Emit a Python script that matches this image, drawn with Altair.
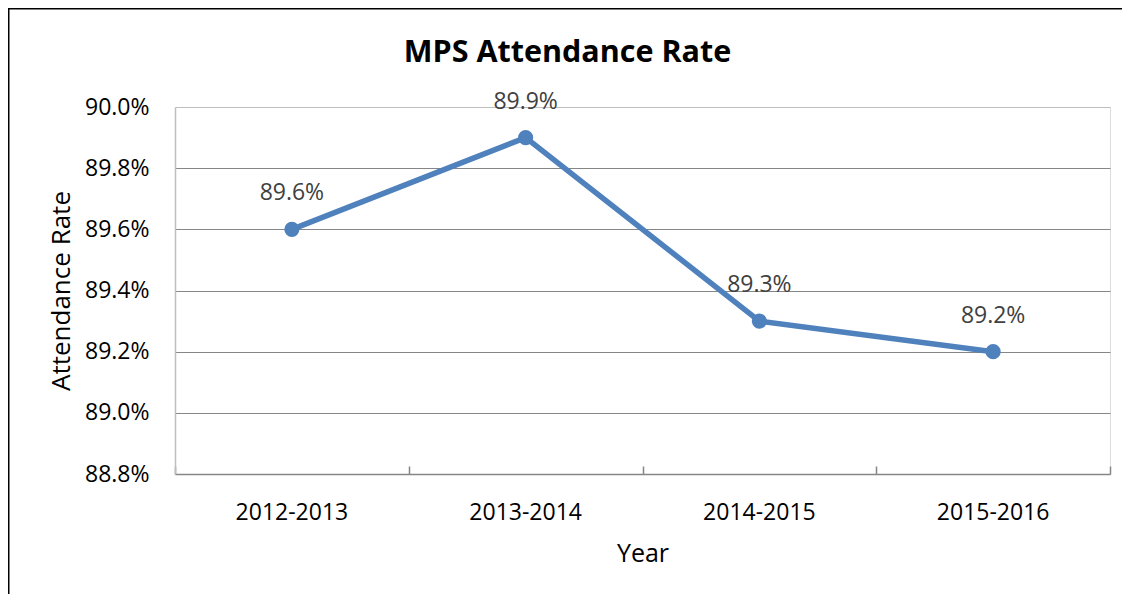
import altair as alt
import pandas as pd

# ---- data ----
years = ["2012-2013", "2013-2014", "2014-2015", "2015-2016"]
rates = [0.896, 0.899, 0.893, 0.892]
y_ticks = [0.888, 0.890, 0.892, 0.894, 0.896, 0.898, 0.900]

df = pd.DataFrame({"Year": years, "Rate": rates})
frame_df = pd.DataFrame({"k": [0]})

FONT = "Open Sans"
W, H = 935, 367
BLUE = "#4F81BD"
GRID = "#868686"
LIGHT = "#BFBFBF"

xscale = alt.Scale(type="band", paddingInner=0, paddingOuter=0, domain=years)
yscale = alt.Scale(domain=[0.888, 0.900], nice=False, zero=False)

x_main = alt.X(
    "Year:N", scale=xscale, bandPosition=0.5, sort=years,
    axis=alt.Axis(
        orient="bottom", title="Year", ticks=False, tickSize=0,
        domainColor=GRID, domainWidth=1.5, labelAngle=0,
        labelFont=FONT, labelFontSize=23, labelColor="#000000",
        labelPadding=27, titleFont=FONT, titleFontSize=25,
        titleFontWeight="normal", titleColor="#000000", titlePadding=17,
        grid=False,
    ),
)
x_plain = alt.X("Year:N", scale=xscale, bandPosition=0.5, sort=years, axis=None)
y_main = alt.Y(
    "Rate:Q", scale=yscale,
    axis=alt.Axis(
        orient="left", values=y_ticks, format=".1%", ticks=False, tickSize=0,
        domainColor=LIGHT, domainWidth=1.5,
        grid=True, gridWidth=1.2,
        gridColor={"condition": {"test": "datum.value >= 0.8999", "value": LIGHT}, "value": GRID},
        labelFont=FONT, labelFontSize=23, labelColor="#000000", labelPadding=26,
        title="Attendance Rate", titleFont=FONT, titleFontSize=26,
        titleFontWeight="normal", titleColor="#000000", titlePadding=10,
    ),
)

base = alt.Chart(df)

line = base.mark_line(color=BLUE, strokeWidth=5.5).encode(x=x_main, y=y_main)
points = base.mark_point(filled=True, size=230, color=BLUE, opacity=1).encode(
    x=x_plain, y=y_main,
)
labels = base.mark_text(dy=-36, font=FONT, fontSize=23, color="#404040").encode(
    x=x_plain, y=y_main,
    text=alt.Text("Rate:Q", format=".1%"),
)
# inward tick marks at category boundaries (top-oriented axis moved down onto the baseline)
tick_axis = base.mark_point(opacity=0).encode(
    x=alt.X(
        "Year:N", scale=xscale, bandPosition=0.5, sort=years,
        axis=alt.Axis(
            orient="top", offset=-H, labels=False, domain=False, ticks=True,
            tickBand="extent", tickSize=8, tickColor=GRID, tickWidth=1.5,
            title=None, grid=False,
        ),
    ),
)
# outer chart-area border
border = alt.Chart(frame_df).mark_rect(
    fillOpacity=0, stroke="#000000", strokeWidth=3
).encode(
    x=alt.value(-167), x2=alt.value(W + 60),
    y=alt.value(-99), y2=alt.value(H + 200),
)

chart = alt.layer(border, line, points, labels, tick_axis).properties(
    width=W, height=H,
    title=alt.TitleParams(
        "MPS Attendance Rate", font=FONT, fontSize=30.5, fontWeight="bold",
        color="#000000", anchor="middle", dx=-75, offset=-86, baseline="alphabetic",
    ),
    autosize=alt.AutoSizeParams(type="none"),
    padding={"left": 167, "top": 99, "right": 12, "bottom": 120},
).configure_view(stroke=LIGHT, strokeWidth=2).configure(background="white")

chart.save("out.html", embed_options={"renderer": "svg", "actions": False})
